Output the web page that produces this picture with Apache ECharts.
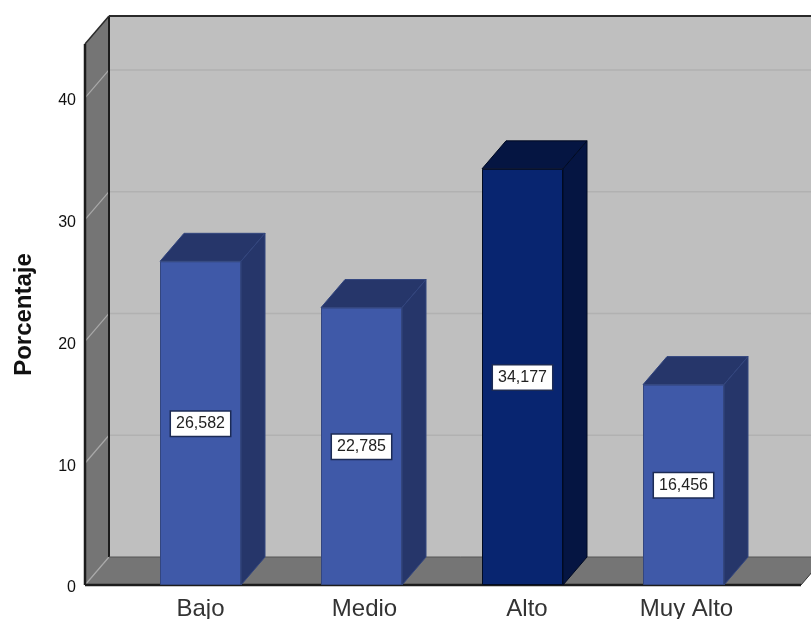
<!DOCTYPE html>
<html><head><meta charset="utf-8">
<style>html,body{margin:0;padding:0;background:#fff}#c{width:811px;height:619px}</style>
<script src="https://cdn.jsdelivr.net/npm/echarts@6/dist/echarts.min.js"></script>
</head><body><div id="c"></div>
<script>
const categories = ['Bajo', 'Medio', 'Alto', 'Muy Alto'];
const porcentaje = [26.582, 22.785, 34.177, 16.456];
const yTicks = [0, 10, 20, 30, 40];
const highlightIndex = 2;

const DX = 24, DY = 28, YMAX = 44.43, EXT_L = 35, EXT_R = 37;
const LABEL_NUDGE = [0, 6, 9, 6];
const FONT = '"Liberation Sans", Arial, sans-serif';
const faceCol = ['#3f59a8', '#082570'];
const sideCol = ['#26366a', '#051542'];
const topCol  = ['#26366a', '#051542'];
const edgeCol = ['#33467f', '#000a22'];

const chart = echarts.init(document.getElementById('c'), null, {renderer: 'canvas'});

function poly(pts, fill, stroke, lw, z2) {
  return {type: 'polygon', shape: {points: pts},
    style: {fill: fill, stroke: stroke || null, lineWidth: lw || 0}, z2: z2 || 0, silent: true};
}
function line(a, b, col, w, z2) {
  return {type: 'line', shape: {x1: a[0], y1: a[1], x2: b[0], y2: b[1]},
    style: {stroke: col, lineWidth: w, fill: null}, z2: z2 || 0, silent: true};
}

function renderWalls(params, api) {
  const half = api.size([1, 0])[0] / 2;
  const x0 = api.coord([0, 0])[0] - half - EXT_L;
  const xN = api.coord([categories.length - 1, 0])[0] + half + EXT_R;
  const yB = api.coord([0, 0])[1];
  const yT = api.coord([0, YMAX])[1];
  const ch = [];
  ch.push(poly([[x0 + DX, yT - DY], [xN + DX, yT - DY], [xN + DX, yB - DY], [x0 + DX, yB - DY]], '#bfbfbf'));
  ch.push(poly([[x0, yT], [x0 + DX, yT - DY], [x0 + DX, yB - DY], [x0, yB]], '#757575'));
  ch.push(poly([[x0, yB], [x0 + DX, yB - DY], [xN + DX, yB - DY], [xN, yB]], '#757575'));
  yTicks.forEach(function (t) {
    const y = api.coord([0, t])[1];
    ch.push(line([x0, y], [x0 + DX, y - DY], '#a9a9a9', 1.2, 1));
    if (t > 0) ch.push(line([x0 + DX, y - DY], [xN + DX, y - DY], '#b1b1b1', 1.5, 1));
  });
  ch.push(line([x0 + DX, yT - DY], [x0 + DX, yB - DY], '#1c1c1c', 2, 2));
  ch.push(line([x0 + DX, yT - DY], [xN + DX, yT - DY], '#2a2a2a', 2, 2));
  ch.push(line([x0, yT], [x0 + DX, yT - DY], '#2a2a2a', 1.5, 2));
  ch.push(line([x0, yT], [x0, yB], '#1c1c1c', 2.5, 2));
  ch.push(line([x0, yB], [xN, yB], '#1c1c1c', 2.5, 2));
  ch.push(line([x0 + DX, yB - DY], [xN + DX, yB - DY], '#555555', 1, 2));
  ch.push(line([xN, yB], [xN + DX, yB - DY], '#333333', 1, 2));
  return {type: 'group', children: ch};
}

function renderDepth(params, api) {
  const i = api.value(0), v = api.value(1);
  const c = api.coord([i, v]), b = api.coord([i, 0]);
  const w = BAR_W / 2, k = i === highlightIndex ? 1 : 0;
  const l = c[0] - w, r = c[0] + w, y = c[1];
  return {type: 'group', children: [
    poly([[l, y], [r, y], [r + DX, y - DY], [l + DX, y - DY]], topCol[k], edgeCol[k], 1),
    poly([[r, y], [r + DX, y - DY], [r + DX, b[1] - DY], [r, b[1]]], sideCol[k], edgeCol[k], 1)
  ]};
}
const BAR_W = 81;

chart.setOption({
  animation: false,
  backgroundColor: '#ffffff',
  grid: {left: 120, width: 644, top: 44, height: 541, containLabel: false, outerBoundsMode: 'none'},
  xAxis: {
    type: 'category',
    data: categories.map(function (c, i) {
      return {value: c, textStyle: {padding: [0, 0, 0, LABEL_NUDGE[i]]}};
    }),
    axisLine: {show: false}, axisTick: {show: false},
    axisLabel: {color: '#333', fontFamily: FONT, fontSize: 24, margin: 12, interval: 0, lineHeight: 24}
  },
  yAxis: {
    type: 'value', min: 0, max: YMAX, interval: 10, offset: 35,
    name: 'Porcentaje', nameLocation: 'middle', nameGap: 49, nameRotate: 90,
    nameTextStyle: {color: '#111', fontFamily: FONT, fontSize: 24, fontWeight: 'bold'},
    axisLine: {show: false}, axisTick: {show: false}, splitLine: {show: false},
    axisLabel: {color: '#111', fontFamily: FONT, fontSize: 16, margin: 9, showMaxLabel: false,
                verticalAlign: 'top', lineHeight: 6}
  },
  series: [
    {type: 'custom', z: 1, silent: true, renderItem: renderWalls, data: [[0, 0]], clip: false,
     encode: {x: 0, y: 1}},
    {type: 'custom', z: 2, silent: true, renderItem: renderDepth, clip: false,
     data: porcentaje.map(function (v, i) { return [i, v]; }), encode: {x: 0, y: 1}},
    {type: 'bar', z: 3, barWidth: BAR_W, silent: true,
     data: porcentaje.map(function (v, i) {
       const k = i === highlightIndex ? 1 : 0;
       return {value: v, itemStyle: {color: faceCol[k], borderColor: edgeCol[k], borderWidth: 1}};
     }),
     label: {
       show: true, position: 'inside', offset: [0, 0.5], color: '#222', fontFamily: FONT, fontSize: 16,
       backgroundColor: '#ffffff', borderColor: '#1c2b55', borderWidth: 1.5,
       padding: [5, 5, 3, 5],
       formatter: function (p) { return p.value.toFixed(3).replace('.', ','); }
     }}
  ]
});
</script></body></html>
